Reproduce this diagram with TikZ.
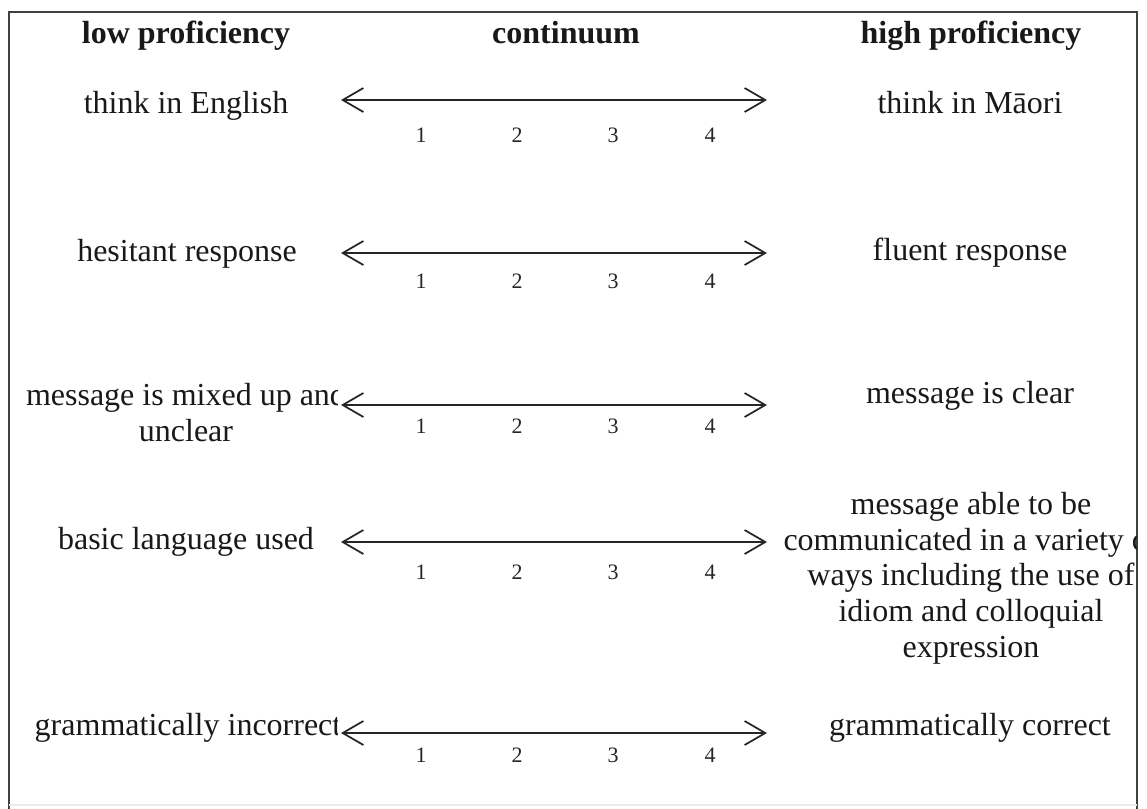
\documentclass[tikz,border=0pt]{standalone}
\usepackage{fontspec}
\setmainfont{Liberation Serif}
\usetikzlibrary{arrows.meta}
\tikzset{
  frameline/.style={line width=1.5pt, draw=black!75},
  label/.style={inner sep=0pt, anchor=base, align=center,
    font=\fontsize{24}{26.7}\selectfont, text=black!90},
  head/.style={label, font=\fontsize{24}{26.7}\selectfont\bfseries},
  tick/.style={inner sep=0pt, anchor=base,
    font=\fontsize{16.5}{18}\selectfont, text=black!85},
  scalearrow/.style={line width=1.4pt, draw=black!85,
    {Straight Barb[length=15.5pt, width=18pt, line width=1.3pt]}-{Straight Barb[length=15.5pt, width=18pt, line width=1.3pt]}}
}
\begin{document}
\begin{tikzpicture}[x=0.75pt, y=-0.75pt]
\useasboundingbox (0,0) rectangle (1147,808);
\fill[white] (0,0) rectangle (1147,808);

% outer frame
\draw[frameline] (9,809) -- (9,12) -- (1137,12) -- (1137,809);
\draw[line width=1pt, draw=black!8] (9,805) -- (1137,805);

% column headings
\node[head] (hlow)  at (186,43) {low proficiency};
\node[head] (hcont) at (566,43) {continuum};
\node[head] (hhigh) at (971,43) {high proficiency};

% left-hand descriptors, cut off at the scale's left end
% (a multi-line node sits on the baseline of its last line)
\begin{scope}
\clip (10,13) rectangle (337,800);
\node[label] (l1) at (186,113) {think in English};
\node[label] (l2) at (187,261) {hesitant response};
\node[label] (l3) at (186,441) {message is mixed up and\\unclear};
\node[label] (l4) at (186,549) {basic language used};
\node[label] (l5) at (188,735) {grammatically incorrect};
\end{scope}

% right-hand descriptors, cut off by the frame
\begin{scope}
\clip (700,13) rectangle (1136,800);
\node[label] (r1) at (970,113) {think in Māori};
\node[label] (r2) at (970,260) {fluent response};
\node[label] (r3) at (970,403) {message is clear};
\node[label] (r4) at (971,657) {message able to be\\communicated in a variety of\\ways including the use of\\idiom and colloquial\\expression};
\node[label] (r5) at (970,735) {grammatically correct};
\end{scope}

% rating scales 1--4
\foreach \i/\ya/\yn in {1/100/142, 2/253/288, 3/405/433, 4/542/579, 5/733/762} {
  \coordinate (s\i l) at (341,\ya);
  \coordinate (s\i r) at (767,\ya);
  \draw[scalearrow] (s\i l) -- (s\i r);
  \node[tick] (n\i a) at (421,\yn) {1};
  \node[tick] (n\i b) at (517,\yn) {2};
  \node[tick] (n\i c) at (613,\yn) {3};
  \node[tick] (n\i d) at (710,\yn) {4};
}
\end{tikzpicture}
\end{document}
